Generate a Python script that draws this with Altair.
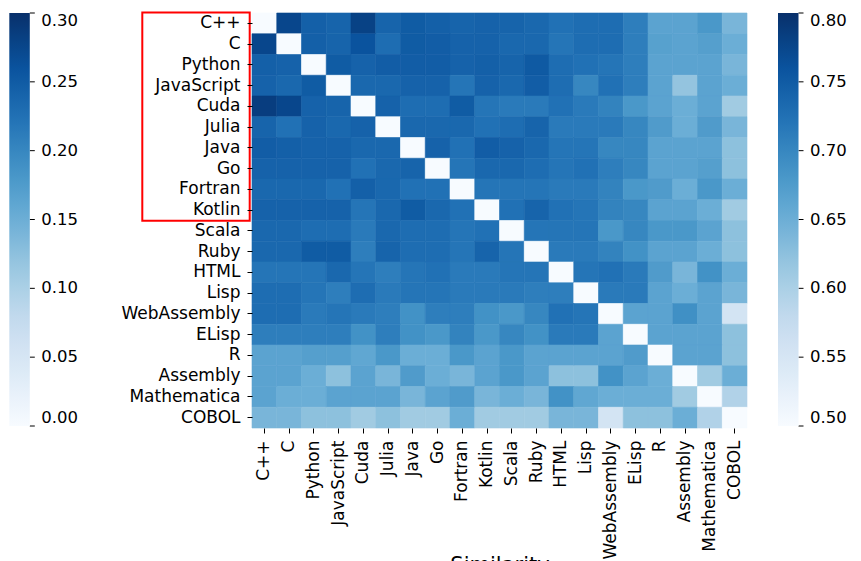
import altair as alt
import pandas as pd

languages = ["C++", "C", "Python", "JavaScript", "Cuda", "Julia", "Java", "Go",
             "Fortran", "Kotlin", "Scala", "Ruby", "HTML", "Lisp", "WebAssembly",
             "ELisp", "R", "Assembly", "Mathematica", "COBOL"]

row_cpp = [0.50, 0.775, 0.745, 0.74, 0.78, 0.74, 0.75, 0.745, 0.74, 0.742, 0.74, 0.735, 0.725, 0.73, 0.73, 0.71, 0.665, 0.665, 0.68, 0.64]
row_c = [0.775, 0.50, 0.745, 0.74, 0.76, 0.73, 0.75, 0.748, 0.742, 0.742, 0.735, 0.735, 0.72, 0.73, 0.73, 0.71, 0.668, 0.665, 0.67, 0.65]
row_python = [0.745, 0.742, 0.50, 0.75, 0.742, 0.748, 0.748, 0.748, 0.742, 0.745, 0.74, 0.752, 0.73, 0.725, 0.72, 0.71, 0.665, 0.665, 0.665, 0.64]
row_javascript = [0.742, 0.735, 0.75, 0.50, 0.735, 0.735, 0.742, 0.742, 0.72, 0.742, 0.735, 0.748, 0.73, 0.70, 0.725, 0.71, 0.665, 0.62, 0.665, 0.65]
row_cuda = [0.785, 0.775, 0.742, 0.74, 0.50, 0.742, 0.73, 0.73, 0.75, 0.72, 0.715, 0.715, 0.725, 0.715, 0.705, 0.68, 0.665, 0.65, 0.665, 0.61]
row_julia = [0.74, 0.725, 0.742, 0.735, 0.742, 0.50, 0.735, 0.735, 0.735, 0.725, 0.73, 0.74, 0.715, 0.715, 0.715, 0.70, 0.675, 0.65, 0.675, 0.64]
row_java = [0.748, 0.745, 0.742, 0.742, 0.735, 0.735, 0.50, 0.742, 0.725, 0.748, 0.742, 0.735, 0.72, 0.72, 0.70, 0.70, 0.665, 0.665, 0.665, 0.625]
row_go = [0.742, 0.742, 0.742, 0.742, 0.725, 0.735, 0.74, 0.50, 0.72, 0.735, 0.735, 0.73, 0.72, 0.725, 0.71, 0.70, 0.665, 0.665, 0.67, 0.625]
row_fortran = [0.735, 0.735, 0.735, 0.725, 0.745, 0.735, 0.725, 0.725, 0.50, 0.72, 0.72, 0.72, 0.715, 0.715, 0.705, 0.68, 0.675, 0.65, 0.68, 0.65]
row_kotlin = [0.742, 0.742, 0.742, 0.742, 0.72, 0.735, 0.75, 0.735, 0.725, 0.50, 0.725, 0.74, 0.725, 0.72, 0.705, 0.70, 0.665, 0.665, 0.65, 0.61]
row_scala = [0.735, 0.735, 0.73, 0.73, 0.715, 0.735, 0.73, 0.73, 0.72, 0.725, 0.50, 0.72, 0.72, 0.72, 0.68, 0.70, 0.68, 0.68, 0.665, 0.625]
row_ruby = [0.735, 0.735, 0.75, 0.75, 0.71, 0.74, 0.73, 0.73, 0.72, 0.74, 0.72, 0.50, 0.715, 0.715, 0.705, 0.688, 0.665, 0.665, 0.65, 0.625]
row_html = [0.72, 0.72, 0.72, 0.735, 0.72, 0.71, 0.72, 0.725, 0.715, 0.715, 0.72, 0.72, 0.50, 0.72, 0.725, 0.715, 0.675, 0.64, 0.688, 0.65]
row_lisp = [0.73, 0.73, 0.72, 0.71, 0.73, 0.715, 0.72, 0.72, 0.715, 0.715, 0.715, 0.71, 0.71, 0.50, 0.715, 0.715, 0.665, 0.65, 0.665, 0.64]
row_webassembly = [0.73, 0.73, 0.715, 0.72, 0.715, 0.71, 0.688, 0.71, 0.71, 0.688, 0.68, 0.70, 0.725, 0.72, 0.50, 0.665, 0.665, 0.69, 0.665, 0.555]
row_elisp = [0.71, 0.71, 0.71, 0.71, 0.688, 0.71, 0.688, 0.68, 0.705, 0.68, 0.70, 0.688, 0.715, 0.715, 0.665, 0.50, 0.665, 0.665, 0.665, 0.625]
row_r = [0.665, 0.665, 0.67, 0.67, 0.66, 0.68, 0.65, 0.65, 0.68, 0.665, 0.68, 0.665, 0.665, 0.665, 0.665, 0.675, 0.50, 0.665, 0.665, 0.625]
row_assembly = [0.665, 0.665, 0.65, 0.625, 0.665, 0.64, 0.675, 0.65, 0.64, 0.665, 0.68, 0.665, 0.625, 0.625, 0.688, 0.665, 0.65, 0.50, 0.61, 0.65]
row_mathematica = [0.665, 0.65, 0.65, 0.665, 0.665, 0.665, 0.64, 0.665, 0.675, 0.64, 0.65, 0.64, 0.688, 0.66, 0.65, 0.65, 0.65, 0.61, 0.50, 0.595]
row_cobol = [0.64, 0.64, 0.625, 0.625, 0.61, 0.625, 0.61, 0.61, 0.65, 0.61, 0.61, 0.61, 0.64, 0.64, 0.555, 0.625, 0.625, 0.65, 0.595, 0.50]

matrix = [row_cpp, row_c, row_python, row_javascript, row_cuda, row_julia, row_java,
          row_go, row_fortran, row_kotlin, row_scala, row_ruby, row_html, row_lisp,
          row_webassembly, row_elisp, row_r, row_assembly, row_mathematica, row_cobol]

right_ticks = [0.50, 0.55, 0.60, 0.65, 0.70, 0.75, 0.80]
left_ticks = [0.00, 0.05, 0.10, 0.15, 0.20, 0.25, 0.30]

# matplotlib "Blues" colormap stops
blues = ["#f7fbff", "#deebf7", "#c6dbef", "#9ecae1", "#6baed6",
         "#4292c6", "#2171b5", "#08519c", "#08306b"]

def stops(lo, hi):
    n = len(blues)
    return [lo + (hi - lo) * k / (n - 1) for k in range(n)]

records = []
for i, r in enumerate(languages):
    for j, c in enumerate(languages):
        records.append({"row": r, "col": c, "value": matrix[i][j]})
df = pd.DataFrame(records)

FONT = "DejaVu Sans"
BAR_LEN = 413
BAR_W = 20.5
LEFT_X = -242.7
RIGHT_X = 526

legend_common = dict(
    orient="none", legendY=0, title=None, format=".2f",
    gradientLength=BAR_LEN, gradientThickness=BAR_W, labelOffset=11.5,
    labelBaseline="middle", labelOverlap=False, labelFontSize=16.5,
    labelFont=FONT, labelColor="black", direction="vertical",
    padding=0, gradientOpacity=1,
)

right_scale = alt.Scale(domain=stops(right_ticks[0], right_ticks[-1]),
                        range=blues, interpolate="rgb", clamp=True)

heat = alt.Chart(df).mark_rect(strokeWidth=0.6).encode(
    x=alt.X("col:N", sort=languages, title="Similarity",
            axis=alt.Axis(labelAngle=-90, titleFontSize=21, titleFont=FONT,
                          titleFontWeight="normal", titleColor="black",
                          titleY=126, titleBaseline="top")),
    y=alt.Y("row:N", sort=languages, title=None),
    color=alt.Color("value:Q", scale=right_scale,
                    legend=alt.Legend(legendX=RIGHT_X, values=right_ticks, **legend_common)),
    stroke=alt.Stroke("value:Q", scale=right_scale, legend=None),
)

left_df = pd.DataFrame({"v": [left_ticks[0], left_ticks[-1]]})
left_bar = alt.Chart(left_df).mark_point(size=0, filled=True, opacity=1).encode(
    color=alt.Color("v:Q",
                    scale=alt.Scale(domain=stops(left_ticks[0], left_ticks[-1]),
                                    range=blues, interpolate="rgb", clamp=True),
                    legend=alt.Legend(legendX=LEFT_X, values=left_ticks, **legend_common)),
)

# colorbar tick marks
right_tick_df = pd.DataFrame({"t": right_ticks})
right_tick_marks = alt.Chart(right_tick_df).mark_rule(color="black", strokeWidth=1).encode(
    y=alt.Y("t:Q", scale=alt.Scale(domain=[right_ticks[0], right_ticks[-1]], range=[BAR_LEN, 0]),
            axis=None),
    x=alt.value(RIGHT_X + BAR_W), x2=alt.value(RIGHT_X + BAR_W + 5),
)
left_tick_df = pd.DataFrame({"t": left_ticks})
left_tick_marks = alt.Chart(left_tick_df).mark_rule(color="black", strokeWidth=1).encode(
    y=alt.Y("t:Q", scale=alt.Scale(domain=[left_ticks[0], left_ticks[-1]], range=[BAR_LEN, 0]),
            axis=None),
    x=alt.value(LEFT_X + BAR_W), x2=alt.value(LEFT_X + BAR_W + 5),
)

box_df = pd.DataFrame({"note": ["highlight"]})
box = alt.Chart(box_df).mark_rect(fillOpacity=0, stroke="red", strokeWidth=2).encode(
    x=alt.value(-109.7), x2=alt.value(-2.3), y=alt.value(-0.6), y2=alt.value(207.7)
)

chart = alt.layer(heat, left_bar, right_tick_marks, left_tick_marks, box).resolve_scale(
    color="independent", y="independent"
).properties(
    width=495, height=415,
    autosize=alt.AutoSizeParams(type="none"),
    padding={"left": 244, "top": 5, "right": 105, "bottom": 133},
).configure_view(stroke=None).configure_axis(
    labelFont=FONT, labelFontSize=17, labelColor="black",
    tickColor="black", tickSize=5, tickWidth=1, domain=False, grid=False,
    labelPadding=7, labelOverlap=False, labelLimit=300,
)

chart.save("out.html", embed_options={"renderer": "svg", "actions": False})
